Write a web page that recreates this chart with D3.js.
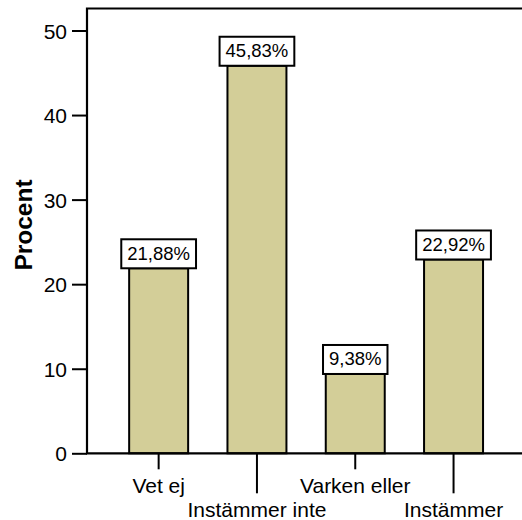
<!DOCTYPE html>
<html lang="sv">
<head>
    <meta charset="UTF-8">
    <title>Procent</title>
    <script src="https://d3js.org/d3.v7.min.js"></script>
    <style>
        body { margin: 0; background: #fff; overflow: hidden; }
        svg { display: block; font-family: "Liberation Sans", Arial, sans-serif; }
        .bar { fill: #d3ce98; stroke: #000; stroke-width: 2px; }
        .frame { stroke: #000; stroke-width: 2.2px; fill: none; }
        .axis text { font-size: 21px; fill: #000; }
        .axis line { stroke: #000; stroke-width: 2px; }
        .box { fill: #fff; stroke: #000; stroke-width: 2px; }
        .val { font-size: 18.5px; fill: #000; }
    </style>
</head>
<body>
<script>
    // data
    const categories = ["Vet ej", "Instämmer inte", "Varken eller", "Instämmer"];
    const values = [21.88, 45.83, 9.38, 22.92];
    const yTicks = [0, 10, 20, 30, 40, 50];

    const width = 522, height = 520;
    const plotLeft = 87, plotTop = 8.5, plotBottom = 453.3;

    const svg = d3.select("body").append("svg")
        .attr("width", width)
        .attr("height", height);

    const y = d3.scaleLinear().domain([0, 52.6]).range([plotBottom, plotTop]);
    const x = d3.scaleBand().domain(categories)
        .range([109.5, 502.7])
        .paddingInner(0.4)
        .paddingOuter(0.2);

    const sv = d3.formatLocale({ decimal: ",", thousands: " ", grouping: [3], currency: ["", " kr"] });
    const fmt = d => sv.format(".2f")(d) + "%";

    // y axis
    const yAxis = svg.append("g")
        .attr("class", "axis")
        .attr("transform", `translate(${plotLeft},0)`)
        .call(d3.axisLeft(y).tickValues(yTicks).tickSize(15).tickPadding(5).tickFormat(d3.format("d")));
    yAxis.select(".domain").remove();
    yAxis.selectAll("text").attr("dy", "0.36em");

    // x axis, alternate tick lengths so the labels don't collide
    const xAxis = svg.append("g")
        .attr("class", "axis")
        .attr("transform", `translate(0,${plotBottom})`)
        .call(d3.axisBottom(x).tickSize(0));
    xAxis.select(".domain").remove();
    xAxis.selectAll(".tick line").attr("y2", (d, i) => i % 2 ? 40 : 16);
    xAxis.selectAll(".tick text")
        .attr("y", (d, i) => i % 2 ? 64 : 40)
        .attr("dy", 0);

    // bars
    svg.selectAll(".bar")
        .data(values)
        .join("rect")
        .attr("class", "bar")
        .attr("x", (d, i) => x(categories[i]))
        .attr("y", d => y(d))
        .attr("width", x.bandwidth())
        .attr("height", d => plotBottom - y(d));

    // frame (left, top, bottom)
    svg.append("path")
        .attr("class", "frame")
        .attr("d", `M${width + 5},${plotTop}H${plotLeft}V${plotBottom}H${width + 5}`);

    // value labels in boxes
    const lab = svg.selectAll(".lab")
        .data(values)
        .join("g")
        .attr("class", "lab")
        .attr("transform", (d, i) => `translate(${x(categories[i]) + x.bandwidth() / 2},${y(d)})`);

    lab.append("text")
        .attr("class", "val")
        .attr("text-anchor", "middle")
        .attr("y", -8.5)
        .text(fmt);

    lab.each(function() {
        const g = d3.select(this);
        const w = g.select("text").node().getComputedTextLength() + 12;
        g.insert("rect", "text")
            .attr("class", "box")
            .attr("x", -w / 2)
            .attr("y", -29)
            .attr("width", w)
            .attr("height", 29);
    });

    // y title
    svg.append("text")
        .attr("transform", `translate(31.5,225) rotate(-90)`)
        .attr("text-anchor", "middle")
        .style("font-size", "24.5px")
        .style("font-weight", "bold")
        .text("Procent");
</script>
</body>
</html>
